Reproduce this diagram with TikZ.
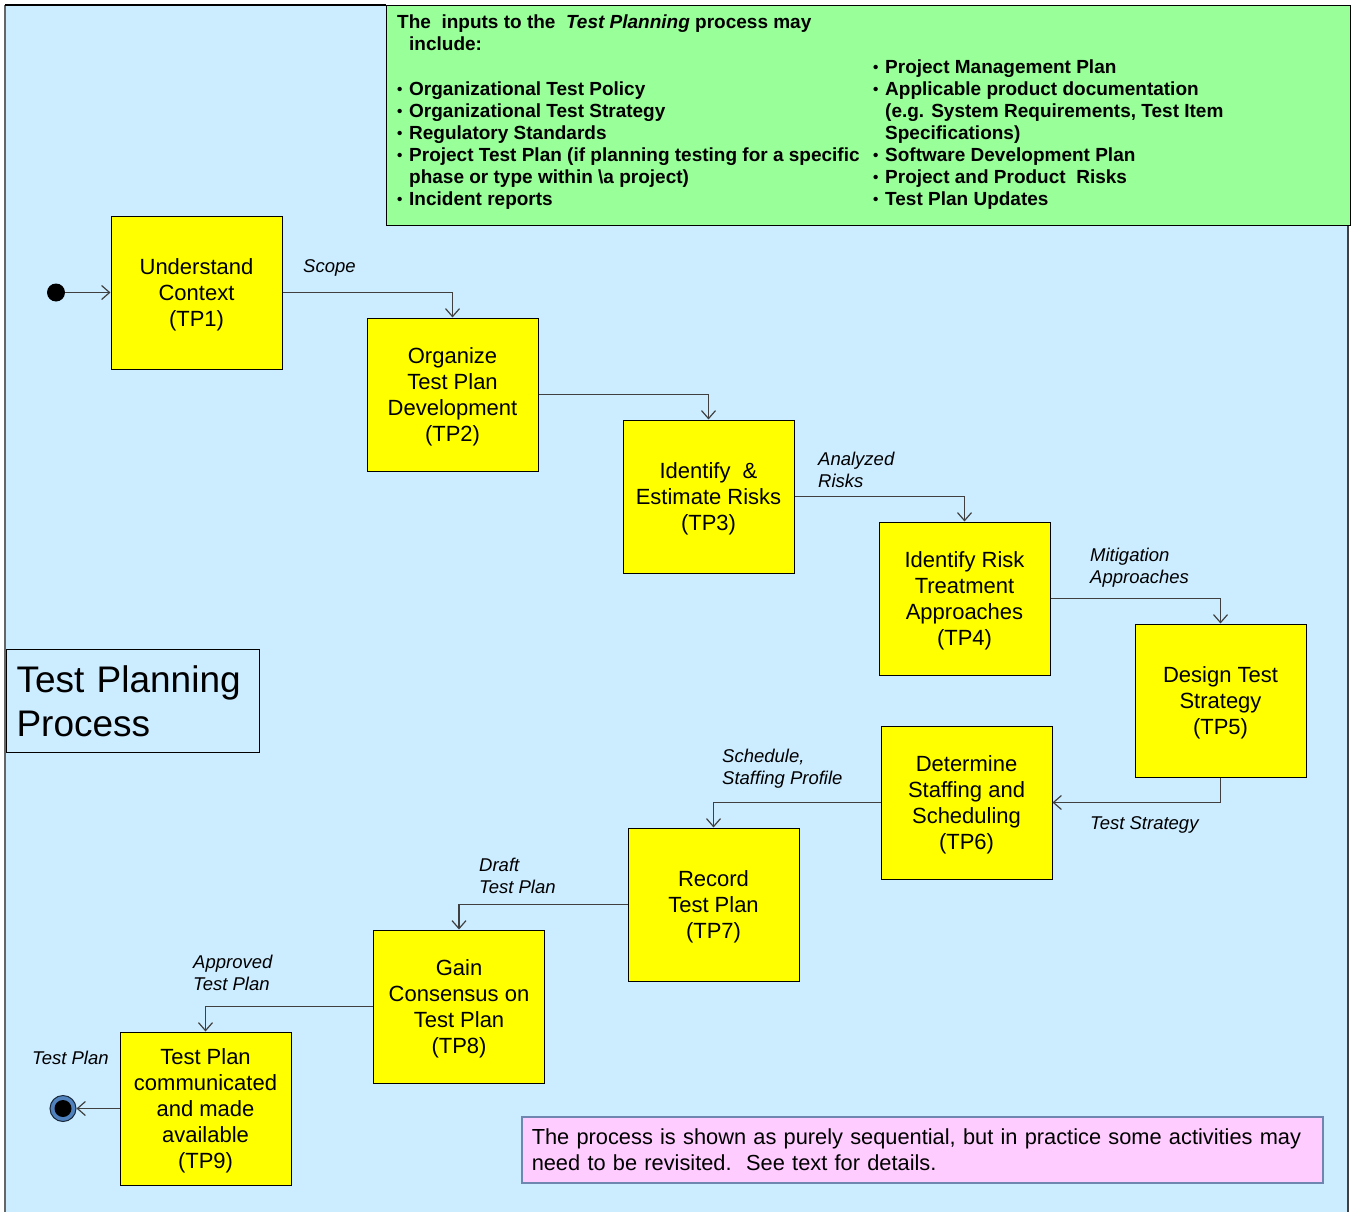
\documentclass[tikz,border=0pt]{standalone}
\usepackage{fontspec}
\setmainfont{Liberation Sans}
\usetikzlibrary{arrows.meta}
\definecolor{bgblue}{HTML}{CCECFF}
\definecolor{ingreen}{HTML}{99FF99}
\definecolor{boxyellow}{HTML}{FFFF00}
\definecolor{notepink}{HTML}{FFCCFF}
\definecolor{linegray}{HTML}{404040}
\definecolor{ringblue}{HTML}{4F81BD}
\definecolor{pinkborder}{HTML}{6F87B0}
\newcommand\bl{\makebox[12pt][l]{\raisebox{0.5pt}{\scalebox{0.8}{\textbullet}}}}
\newcommand\ind{\hspace*{12pt}}
\tikzset{
  procbox/.style={draw=black, line width=1pt, fill=boxyellow, minimum width=171pt, minimum height=153pt, inner sep=0pt},
  boxtext/.style={inner sep=0pt, align=center, font=\fontsize{22}{26}\selectfont},
  flow/.style={draw=linegray, line width=1.2pt, -{Straight Barb[length=8pt,width=14pt,line width=1.2pt]}},
  lbl/.style={anchor=west, align=left, inner sep=0pt, font=\fontsize{18.5}{22}\selectfont\itshape},
  greentext/.style={anchor=north west, align=left, inner sep=0pt, font=\fontsize{19}{22}\selectfont\bfseries},
}
\begin{document}
\begin{tikzpicture}[x=1pt,y=-1pt]
\useasboundingbox (0,0) rectangle (1351,1212);
\fill[white] (0,0) rectangle (1351,1212);
% background panel
\fill[bgblue] (5,5) rectangle (1348,1212);
\draw[gray!80!black, line width=2pt] (5,5) -- (5,1212);
\draw[black, line width=1.5pt] (5,5) -- (386,5);
\draw[linegray, line width=1.5pt] (1348,225) -- (1348,1212);
% inputs box
\node[draw=black, line width=1.2pt, fill=ingreen, anchor=north west, minimum width=964pt, minimum height=220pt, inner sep=0pt] (inputs) at (386,5) {};
\node[greentext] (hdr) at (397,15) {The\ \ inputs to the \ \textit{Test Planning} process may\\\ind include:};
\node[greentext] (leftcol) at (397,81.5) {\bl Organizational Test Policy\\
\bl Organizational Test Strategy\\
\bl Regulatory Standards\\
\bl Project Test Plan (if planning testing for a specific\\
\ind phase or type within \textbackslash a project)\\
\bl Incident reports};
\node[greentext] (rightcol) at (873,59.5) {\bl Project Management Plan\\
\bl Applicable product documentation\\
\ind (e.g. System Requirements, Test Item\\
\ind Specifications)\\
\bl Software Development Plan\\
\bl Project and Product\ \ Risks\\
\bl Test Plan Updates};
% title
\node[draw=black, line width=1pt, fill=bgblue, anchor=north west, minimum width=253pt, minimum height=103pt, text width=233pt, inner xsep=10pt, inner ysep=0pt, align=left, font=\fontsize{37}{44}\selectfont] (title) at (6,649) {Test Planning\\Process};
% process boxes
\node[procbox] (tp1) at (196.5,292.5) {};
\node[procbox] (tp2) at (452.5,394.5) {};
\node[procbox] (tp3) at (708.5,496.5) {};
\node[procbox] (tp4) at (964.5,598.5) {};
\node[procbox] (tp5) at (1220.5,700.5) {};
\node[procbox] (tp6) at (966.5,802.5) {};
\node[procbox] (tp7) at (713.5,904.5) {};
\node[procbox] (tp8) at (459,1006.5) {};
\node[procbox] (tp9) at (205.5,1108.5) {};
\node[boxtext] (tp1t) at ([yshift=-2.5pt]tp1.center) {Understand\\Context\\(TP1)};
\node[boxtext] (tp2t) at ([yshift=-2.5pt]tp2.center) {Organize\\Test Plan\\Development\\(TP2)};
\node[boxtext] (tp3t) at ([yshift=-2.5pt]tp3.center) {Identify\ \ \&\\Estimate Risks\\(TP3)};
\node[boxtext] (tp4t) at ([yshift=-2.5pt]tp4.center) {Identify Risk\\Treatment\\Approaches\\(TP4)};
\node[boxtext] (tp5t) at ([yshift=-2.5pt]tp5.center) {Design Test\\Strategy\\(TP5)};
\node[boxtext] (tp6t) at ([yshift=-2.5pt]tp6.center) {Determine\\Staffing and\\Scheduling\\(TP6)};
\node[boxtext] (tp7t) at ([yshift=-2.5pt]tp7.center) {Record\\Test Plan\\(TP7)};
\node[boxtext] (tp8t) at ([yshift=-2.5pt]tp8.center) {Gain\\Consensus on\\Test Plan\\(TP8)};
\node[boxtext] (tp9t) at ([yshift=-2.5pt]tp9.center) {Test Plan\\communicated\\and made\\available\\(TP9)};
% start / end
\node[circle, fill=black, minimum size=18pt, inner sep=0pt] (start) at (56,292.5) {};
\node[circle, draw=black!70!ringblue, line width=1pt, fill=ringblue, minimum size=26pt, inner sep=0pt] (finish) at (63,1108.5) {};
\node[circle, fill=black, minimum size=17pt, inner sep=0pt] (finishdot) at (finish) {};
% connectors
\draw[flow] (start) -- (tp1.west);
\draw[flow] (tp1.east) -| (tp2.north);
\draw[flow] (tp2.east) -| (tp3.north);
\draw[flow] (tp3.east) -| (tp4.north);
\draw[flow] (tp4.east) -| (tp5.north);
\draw[flow] (tp5.south) |- (tp6.east);
\draw[flow] (tp6.west) -| (tp7.north);
\draw[flow] (tp7.west) -| (tp8.north);
\draw[flow] (tp8.west) -| (tp9.north);
\draw[flow] (tp9.west) -- (finish.east);
% labels
\node[lbl] (lscope) at (303,268) {Scope};
\node[lbl] (lrisks) at (818,470) {Analyzed\\Risks};
\node[lbl] (lmitig) at (1090,568) {Mitigation\\Approaches};
\node[lbl] (lstrat) at (1090,825) {Test Strategy};
\node[lbl] (lsched) at (722,769) {Schedule,\\Staffing Profile};
\node[lbl] (ldraft) at (479,876) {Draft\\Test Plan};
\node[lbl] (lappr) at (193,973) {Approved\\Test Plan};
\node[lbl] (lplan) at (32,1058) {Test Plan};
% note
\node[draw=pinkborder, line width=1.5pt, fill=notepink, anchor=north west, minimum width=801pt, minimum height=66pt, text width=781pt, inner xsep=10pt, inner ysep=0pt, align=left, font=\fontsize{21.8}{26}\selectfont] (note) at (521,1116) {The process is shown as purely sequential, but in practice some activities may\\need to be revisited.\ \ See text for details.};
\end{tikzpicture}
\end{document}
